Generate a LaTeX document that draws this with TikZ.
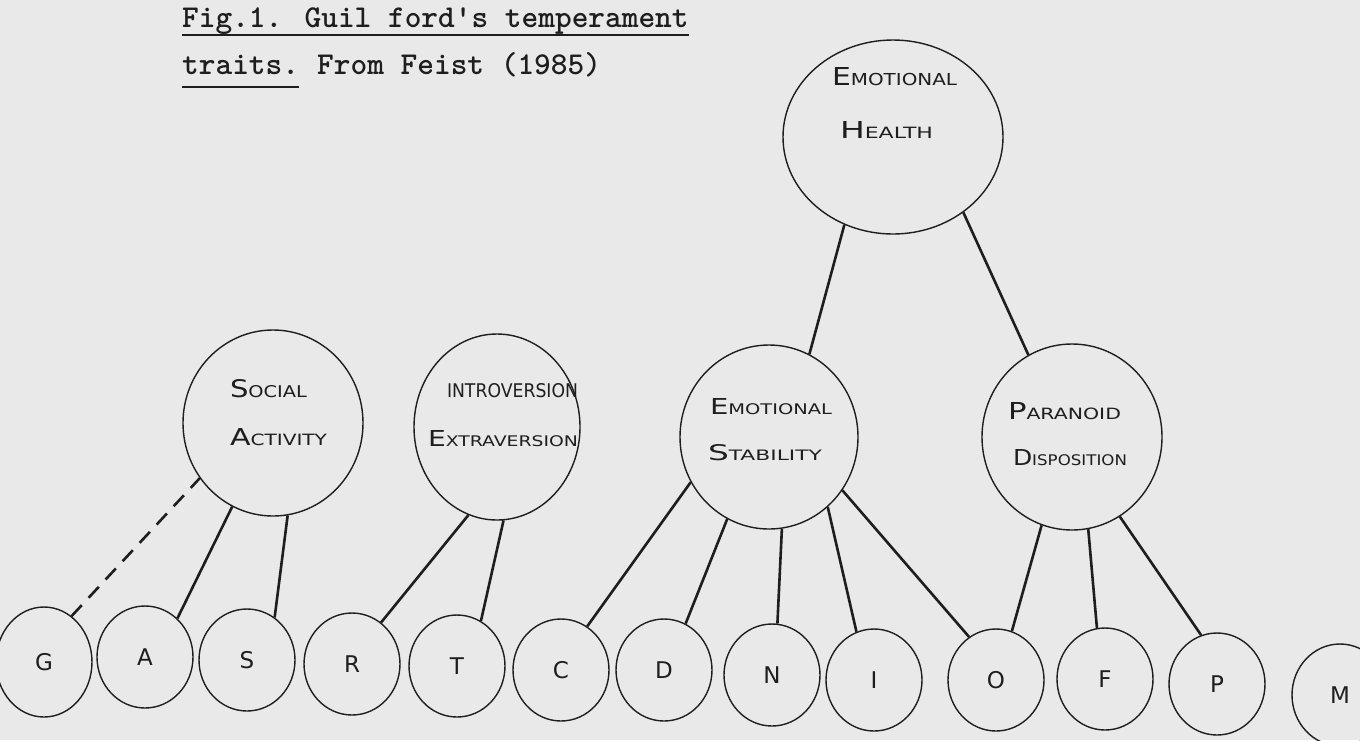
\documentclass[tikz,border=0pt]{standalone}
\usepackage{fontspec}
\usepackage{graphicx}
\usetikzlibrary{shapes.geometric}
\newfontfamily\handf{DejaVu Sans}
\definecolor{paper}{HTML}{E9E9E9}
\definecolor{ink}{HTML}{1E1E1E}
\newcommand{\hw}[2]{{\handf\fontsize{24}{24}\selectfont #1}{\handf\fontsize{16}{16}\selectfont #2}}
\newcommand{\sw}[1]{{\handf\fontsize{16}{16}\selectfont #1}}
\newcommand{\lb}[3]{\resizebox{#1pt}{#2pt}{#3}}
\begin{document}
\begin{tikzpicture}[x=1pt,y=-1pt,
  ttl/.style={anchor=base west, inner sep=0, text=ink, font=\ttfamily\bfseries\fontsize{31.8}{34}\selectfont},
  uline/.style={draw=ink, line width=2.2pt},
  bigcirc/.style={ellipse, draw=ink, line width=1.4pt, inner sep=0},
  letcirc/.style={ellipse, draw=ink, line width=1.4pt, inner sep=0, minimum width=96pt, minimum height=102pt, text=ink, font=\handf\fontsize{23}{23}\selectfont},
  lbl/.style={anchor=base, inner sep=0, text=ink},
  conn/.style={draw=ink, line width=2.6pt},
  dconn/.style={conn, dash pattern=on 15pt off 10pt}
]
\fill[paper] (0,0) rectangle (1360,740);
\useasboundingbox (0,0) rectangle (1360,740);

% title
\node[ttl] (t1) at (182,27) {Fig.1. Guil ford's temperament};
\node[ttl] (t2) at (182,74) {traits.};
\node[ttl] (t3) at (317,74) {From Feist (1985)};
\draw[uline] ([yshift=-8pt]t1.base west) -- ([yshift=-8pt]t1.base east);
\draw[uline] ([yshift=-13pt]t2.base west) -- ([yshift=-13pt]t2.base east);

% upper circles
\node[bigcirc, minimum width=220pt, minimum height=194pt] (eh) at (893,137) {};
\node[bigcirc, minimum width=180pt, minimum height=186pt] (sa) at (273,423) {};
\node[bigcirc, minimum width=166pt, minimum height=186pt] (ie) at (497,427) {};
\node[bigcirc, minimum width=178pt, minimum height=184pt] (es) at (769,437) {};
\node[bigcirc, minimum width=180pt, minimum height=186pt] (pd) at (1072,437) {};

% labels
\node[lbl] (eh1) at (894.5,85) {\lb{125}{18}{\hw{E}{MOTIONAL}}};
\node[lbl] (eh2) at (886.5,138) {\lb{93}{17}{\hw{H}{EALTH}}};
\node[lbl] (sa1) at (268.5,397) {\lb{77}{18}{\hw{S}{OCIAL}}};
\node[lbl] (sa2) at (278.5,445.5) {\lb{97}{17}{\hw{A}{CTIVITY}}};
\node[lbl] (ie1) at (512.5,397) {\lb{131}{14}{\sw{INTROVERSION}}};
\node[lbl] (ie2) at (503,446) {\lb{150}{16}{\hw{E}{XTRAVERSION}}};
\node[lbl] (es1) at (771,414) {\lb{122}{16}{\hw{E}{MOTIONAL}}};
\node[lbl] (es2) at (765,460) {\lb{114}{16}{\hw{S}{TABILITY}}};
\node[lbl] (pd1) at (1064.5,419.5) {\lb{113}{17}{\hw{P}{ARANOID}}};
\node[lbl] (pd2) at (1070,465) {\lb{114}{16}{\hw{D}{ISPOSITION}}};

% trait circles
\node[letcirc, minimum height=110pt] (g) at (44,662) {G};
\node[letcirc] (a) at (145,657) {A};
\node[letcirc] (s) at (247,660) {S};
\node[letcirc] (r) at (352,664) {R};
\node[letcirc] (t) at (457,666) {T};
\node[letcirc] (c) at (561,670) {C};
\node[letcirc] (d) at (664,670) {D};
\node[letcirc] (n) at (772,675) {N};
\node[letcirc] (i) at (874,680) {I};
\node[letcirc] (o) at (996,680) {O};
\node[letcirc] (f) at (1105,679) {F};
\node[letcirc] (p) at (1217,684) {P};
\node[letcirc] (m) at (1340,695) {M};

% connectors
\draw[dconn] (g.59) -- (sa.217);
\draw[conn] (a.50) -- (sa.244);
\draw[conn] (s.57) -- (sa.279);
\draw[conn] (r.55) -- (ie.252);
\draw[conn] (t.62) -- (ie.274);
\draw[conn] (c.59) -- (es.210);
\draw[conn] (d.65) -- (es.243);
\draw[conn] (n.84) -- (es.278);
\draw[conn] (i.110) -- (es.310);
\draw[conn] (o.122) -- (es.324);
\draw[conn] (o.72) -- (pd.251);
\draw[conn] (f.99) -- (pd.280);
\draw[conn] (p.108) -- (pd.301);
\draw[conn] (eh.241) -- (es.64);
\draw[conn] (eh.313) -- (pd.118);
\end{tikzpicture}
\end{document}
